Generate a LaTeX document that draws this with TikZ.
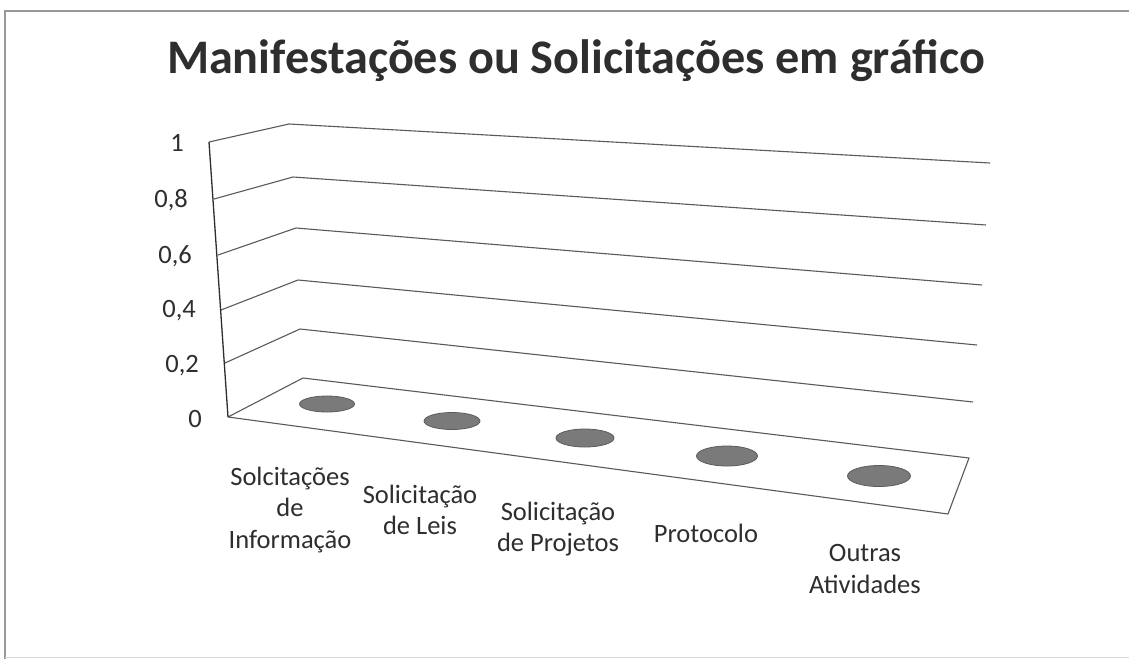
\documentclass[tikz,border=0pt]{standalone}
\usepackage{fontspec}
\setmainfont{Carlito}
\usetikzlibrary{shapes.geometric}
\definecolor{txt}{HTML}{2E2E2E}
\definecolor{grid}{HTML}{5A5A5A}
\definecolor{disk}{HTML}{7A7A7A}
\definecolor{diskedge}{HTML}{5C5C5C}
\begin{document}
\begin{tikzpicture}[x=1pt,y=-1pt,
  gridline/.style={draw=grid,line width=1.1pt,line join=round},
  axisline/.style={draw=txt,line width=1.3pt},
  frameline/.style={draw=gray!80,line width=1.2pt},
  ylab/.style={anchor=east,text=txt,font=\fontsize{26.5}{30}\selectfont,inner sep=0pt},
  catlab/.style={align=center,text=txt,font=\fontsize{26.5}{31.5}\selectfont,inner sep=0pt},
  datadisk/.style={ellipse,fill=disk,draw=diskedge,line width=0.8pt,inner sep=0pt}]
\useasboundingbox (0,0) rectangle (1129,659);
\fill[white] (0,0) rectangle (1129,659);
% frame
\coordinate (fTL) at (5,11);
\coordinate (fTR) at (1129,11);
\coordinate (fBL) at (5,659);
\coordinate (fBR) at (1129,657);
\coordinate (fBL2) at (5,657);
\draw[frameline] (fTR) -- (fTL) -- (fBL);
\draw[draw=gray!30,line width=1pt] (fBL2) -- (fBR);
% title
\node[text=txt,font=\fontsize{48.2}{57}\selectfont\bfseries,inner sep=0pt,anchor=base] (title) at (576,73) {Manifestações ou Solicitações em gráfico};
% front (axis) points
\coordinate (a0) at (228,417);
\coordinate (a2) at (225,363);
\coordinate (a4) at (221,310);
\coordinate (a6) at (218,255);
\coordinate (a8) at (214,199);
\coordinate (a10) at (209,142);
% back-left corners
\coordinate (b0) at (303,378);
\coordinate (b2) at (300,329);
\coordinate (b4) at (298,280);
\coordinate (b6) at (296,228);
\coordinate (b8) at (293,177);
\coordinate (b10) at (289,124);
% right ends
\coordinate (r0) at (969,458);
\coordinate (r2) at (973,402);
\coordinate (r4) at (977,345);
\coordinate (r6) at (982,285);
\coordinate (r8) at (986,225);
\coordinate (r10) at (990,163);
\coordinate (f0) at (948,514);
% gridlines
\foreach \v in {2,4,6,8,10} {\draw[gridline] (a\v) -- (b\v) -- (r\v);}
% floor
\draw[gridline] (a0) -- (b0) -- (r0) -- (f0) -- cycle;
% axis
\draw[axisline] (a10) -- (a0);
% y labels
\node[ylab] (y10) at (184,143) {1};
\node[ylab] (y8) at (188,200) {0,8};
\node[ylab] (y6) at (192,256) {0,6};
\node[ylab] (y4) at (196,311) {0,4};
\node[ylab] (y2) at (199,366) {0,2};
\node[ylab] (y0) at (202,419) {0};
% data disks
\node[datadisk,minimum width=55pt,minimum height=16pt] (d1) at (327,404) {};
\node[datadisk,minimum width=56pt,minimum height=17pt] (d2) at (452,421) {};
\node[datadisk,minimum width=58pt,minimum height=18pt] (d3) at (585,438) {};
\node[datadisk,minimum width=61pt,minimum height=20pt] (d4) at (727,456) {};
\node[datadisk,minimum width=63pt,minimum height=21pt] (d5) at (879,476) {};
% category labels
\node[catlab] (c1) at (290,510) {Solcitações\\de\\Informação};
\node[catlab] (c2) at (420,510) {Solicitação\\de Leis};
\node[catlab] (c3) at (558,529) {Solicitação\\de Projetos};
\node[catlab] (c4) at (706,533) {Protocolo};
\node[catlab] (c5) at (865,569) {Outras\\Atividades};
\end{tikzpicture}
\end{document}
